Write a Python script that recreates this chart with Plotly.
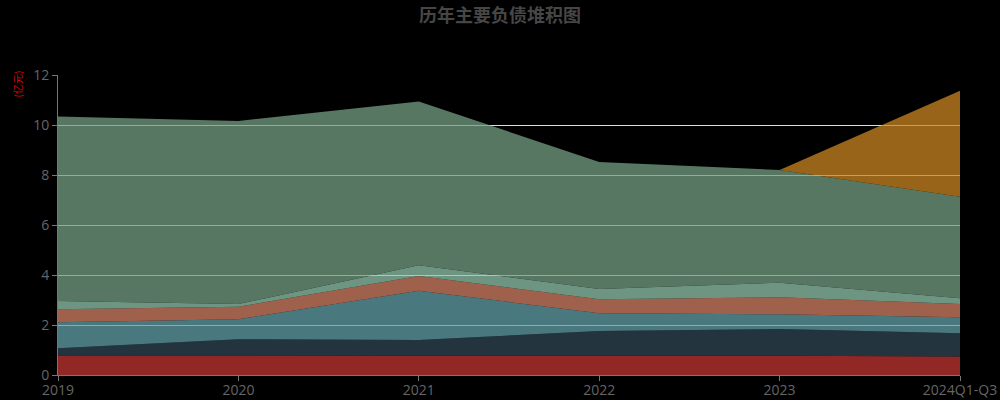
import plotly.graph_objects as go

years = ["2019", "2020", "2021", "2022", "2023", "2024Q1-Q3"]

# 各项负债（亿元），按堆积顺序自下而上
series_names = ["短期借款", "应付票据及应付账款", "合同负债", "应付职工薪酬", "其他应付款", "长期借款", "一年内到期的非流动负债"]
s1 = [0.78, 0.78, 0.78, 0.77, 0.77, 0.74]
s2 = [0.29, 0.65, 0.62, 0.99, 1.07, 0.93]
s3 = [1.04, 0.80, 1.97, 0.71, 0.59, 0.64]
s4 = [0.52, 0.50, 0.59, 0.56, 0.68, 0.53]
s5 = [0.33, 0.11, 0.43, 0.41, 0.58, 0.23]
s6 = [7.38, 7.32, 6.55, 5.08, 4.51, 4.06]
s7 = [0, 0, 0, 0, 0, 4.24]

palette = ["#c23531", "#2f4554", "#61a0a8", "#d48265", "#91c7ae", "#749f83", "#ca8622"]


def rgba(hex_color, a=0.75):
    h = hex_color.lstrip("#")
    r, g, b = int(h[0:2], 16), int(h[2:4], 16), int(h[4:6], 16)
    return "rgba({},{},{},{})".format(r, g, b, a)


fig = go.Figure()
for name, vals, col in zip(series_names, [s1, s2, s3, s4, s5, s6, s7], palette):
    fig.add_trace(go.Scatter(
        x=years, y=vals, name=name,
        mode="lines", stackgroup="one",
        line=dict(width=0, color=col),
        fillcolor=rgba(col),
    ))

fig.update_layout(
    width=1000, height=400,
    paper_bgcolor="#000000", plot_bgcolor="#000000",
    margin=dict(l=58, r=40, t=75, b=25),
    showlegend=False,
    font=dict(family="Open Sans, Noto Sans CJK SC, sans-serif", color="#666666", size=13),
    title=dict(text="<b>历年主要负债堆积图</b>", x=0.5, xanchor="center", y=0.96, yanchor="middle",
               font=dict(family="Noto Sans CJK SC, sans-serif", size=18, color="#464646")),
)
fig.update_xaxes(
    type="category", range=[0, 5], showgrid=False, automargin=False,
    showline=True, linecolor="#777777", linewidth=1,
    ticks="outside", ticklen=5, tickcolor="#777777", ticklabelstandoff=-3,
    tickfont=dict(size=14, color="#666666"),
)
fig.update_yaxes(
    range=[0, 12], dtick=2, showgrid=True, gridcolor="#dddddd", gridwidth=1,
    zeroline=False, showline=True, linecolor="#777777", linewidth=1, automargin=False,
    ticks="outside", ticklen=5, tickcolor="#777777",
    tickfont=dict(size=14, color="#666666"),
)
fig.add_annotation(
    text="(亿元)", xref="paper", yref="paper", x=-0.045, y=0.97,
    xanchor="center", yanchor="middle", textangle=-90, showarrow=False,
    font=dict(family="Noto Sans CJK SC, sans-serif", size=10, color="#dd0000"),
)

fig.write_html(
    "out.html",
    config={"displayModeBar": False},
    post_script="document.body.style.margin='0';document.body.style.background='#000';",
)
